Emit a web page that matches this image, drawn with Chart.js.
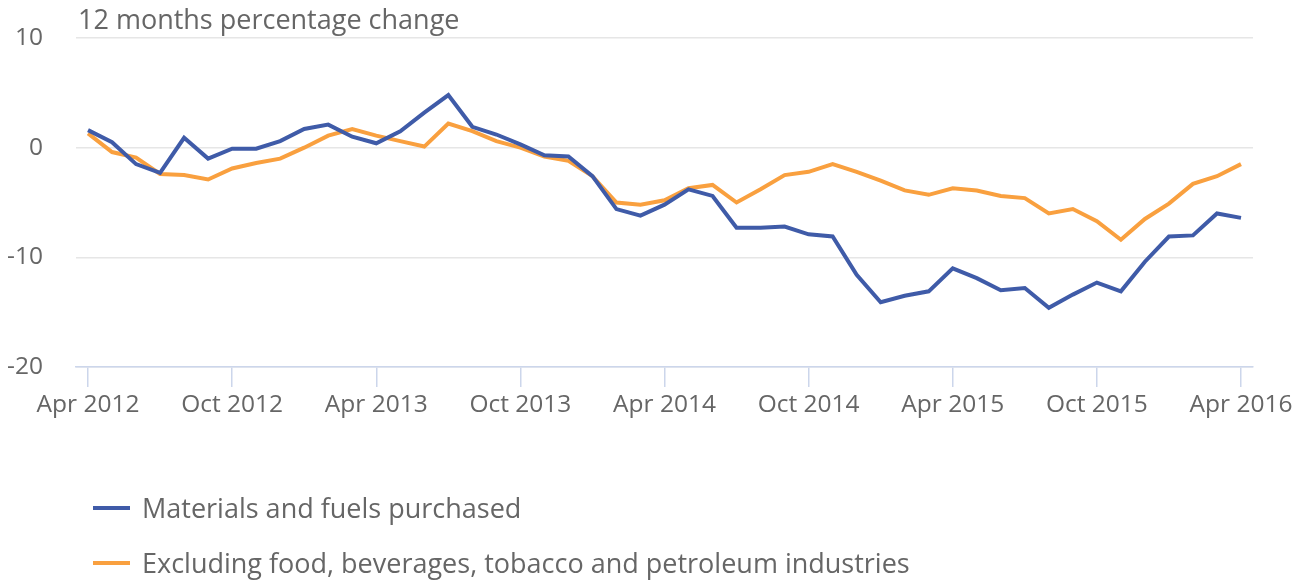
<!DOCTYPE html>
<html>
<head>
<meta charset="utf-8">
<title>12 months percentage change</title>
<script src="https://cdn.jsdelivr.net/npm/chart.js@4/dist/chart.umd.min.js"></script>
<style>
  html, body { margin: 0; padding: 0; background: #fff; }
  #wrap { width: 1305px; height: 580px; position: relative; }
</style>
</head>
<body>
<div id="wrap"><canvas id="ppi-chart"></canvas></div>
<script>
// monthly, Apr 2012 .. Apr 2016
const MONTH_NAMES = ["Jan", "Feb", "Mar", "Apr", "May", "Jun", "Jul", "Aug", "Sep", "Oct", "Nov", "Dec"];
const START_YEAR = 2012;
const START_MONTH = 3; // April
const N_MONTHS = 49;
const TICK_EVERY = 6;

const Y_TICKS = [-20, -10, 0, 10];
const TITLE = "12 months percentage change";

const MATERIALS = [
  1.6, 0.5, -1.5, -2.3, 0.9, -1.0, -0.1, -0.1, 0.6, 1.7, 2.1, 1.0,
  0.4, 1.5, 3.2, 4.8, 1.9, 1.2, 0.3, -0.7, -0.8, -2.6, -5.6, -6.2,
  -5.2, -3.8, -4.4, -7.3, -7.3, -7.2, -7.9, -8.1, -11.6, -14.1, -13.5, -13.1,
  -11.0, -11.9, -13.0, -12.8, -14.6, -13.4, -12.3, -13.1, -10.4, -8.1, -8.0, -6.0,
  -6.4
];
const EXCL_FOOD = [
  1.3, -0.4, -0.9, -2.4, -2.5, -2.9, -1.9, -1.4, -1.0, 0.0, 1.1, 1.7,
  1.1, 0.6, 0.1, 2.2, 1.5, 0.6, 0.0, -0.8, -1.2, -2.6, -5.0, -5.2,
  -4.8, -3.7, -3.4, -5.0, -3.8, -2.5, -2.2, -1.5, -2.2, -3.0, -3.9, -4.3,
  -3.7, -3.9, -4.4, -4.6, -6.0, -5.6, -6.7, -8.4, -6.5, -5.1, -3.3, -2.6,
  -1.5
];

const SERIES = [
  { label: "Materials and fuels purchased", color: "#3f5ba8", data: MATERIALS },
  { label: "Excluding food, beverages, tobacco and petroleum industries", color: "#f9a03f", data: EXCL_FOOD },
];

const FONT = "'Open Sans', 'Noto Sans', sans-serif";
const TEXT_COLOR = "#666666";

function buildLabels() {
  const out = [];
  for (let i = 0; i < N_MONTHS; i++) {
    const m = START_MONTH + i;
    out.push(MONTH_NAMES[m % 12] + " " + (START_YEAR + Math.floor(m / 12)));
  }
  return out;
}

const LABELS = buildLabels();

// title above the plot and legend below, both on the canvas
const extras = {
  id: "extras",
  afterDraw(chart) {
    const ctx = chart.ctx;
    const area = chart.chartArea;
    ctx.save();
    ctx.fillStyle = TEXT_COLOR;
    ctx.font = "27px " + FONT;
    ctx.textAlign = "left";
    ctx.textBaseline = "middle";
    ctx.fillText(TITLE, area.left + 2, 21);

    chart.data.datasets.forEach((ds, i) => {
      const y = 508 + i * 55;
      ctx.strokeStyle = ds.borderColor;
      ctx.lineWidth = 4;
      ctx.beginPath();
      ctx.moveTo(93, y);
      ctx.lineTo(130, y);
      ctx.stroke();
      ctx.fillStyle = TEXT_COLOR;
      ctx.fillText(ds.label, 142, y + 2);
    });
    ctx.restore();
  },
};

// keep the plot edges where we put them, no extra room for end labels
function noEdgePadding(scale) {
  scale.paddingTop = 0;
  scale.paddingBottom = 0;
}

function init() {
  const canvas = document.getElementById("ppi-chart");
  if (!canvas || typeof Chart === "undefined") return;

  new Chart(canvas, {
    type: "line",
    data: {
      labels: LABELS,
      datasets: SERIES.map((s) => ({
        label: s.label,
        data: s.data,
        borderColor: s.color,
        backgroundColor: s.color,
        borderWidth: 4,
        pointRadius: 0,
        tension: 0,
        borderJoinStyle: "miter",
      })),
    },
    options: {
      responsive: true,
      maintainAspectRatio: false,
      animation: false,
      layout: { padding: { left: 6, right: 52, top: 38, bottom: 153 } },
      plugins: {
        legend: { display: false },
        tooltip: { enabled: false },
        title: { display: false },
      },
      scales: {
        x: {
          type: "category",
          offset: true,
          grid: {
            offset: false,
            drawOnChartArea: false,
            tickLength: 20,
            lineWidth: 1.5,
            color: (c) => (c.index % TICK_EVERY === 0 ? "#ccd6eb" : "rgba(0,0,0,0)"),
          },
          border: { color: "#ccd6eb", width: 1.5 },
          ticks: {
            autoSkip: false,
            maxRotation: 0,
            minRotation: 0,
            padding: 3,
            color: TEXT_COLOR,
            font: { family: FONT, size: 24.5 },
            callback(value, index) {
              return index % TICK_EVERY === 0 ? LABELS[index] : "";
            },
          },
          afterFit(scale) {
            scale.height = 60;
            noEdgePadding(scale);
          },
        },
        y: {
          min: Y_TICKS[0],
          max: Y_TICKS[Y_TICKS.length - 1],
          afterBuildTicks(scale) {
            scale.ticks = Y_TICKS.map((v) => ({ value: v }));
          },
          grid: { color: "#e6e6e6", lineWidth: 1.5, drawTicks: false },
          border: { display: false },
          ticks: {
            padding: 33,
            color: TEXT_COLOR,
            font: { family: FONT, size: 24.5 },
          },
          afterFit(scale) {
            scale.width = 70;
            noEdgePadding(scale);
          },
        },
      },
    },
    plugins: [extras],
  });
}

if (document.readyState === "loading") {
  document.addEventListener("DOMContentLoaded", init);
} else {
  init();
}
</script>
</body>
</html>
